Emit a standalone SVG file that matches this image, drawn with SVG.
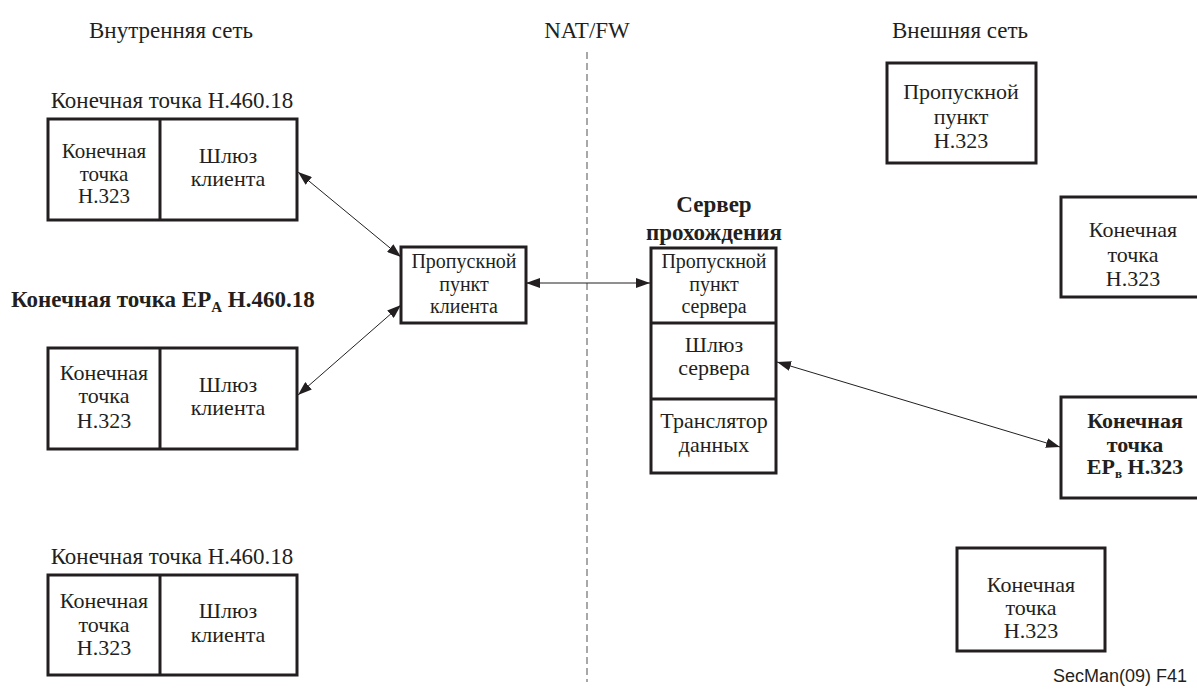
<svg xmlns="http://www.w3.org/2000/svg" width="1197" height="690" viewBox="0 0 1197 690">
  <style>
    text { font-family: "Liberation Serif", "Liberation Sans", serif; font-size: 22px; fill: #231f20; text-anchor: middle; }
    .b { font-weight: bold; }
    .sm { font-size: 21px; }
    .tight { font-size: 20px; }
    .lbl { font-size: 23px; }
    .note { font-family: "Liberation Sans", Arial, sans-serif; font-size: 18px; text-anchor: end; }
    .box { fill: #fff; stroke: #231f20; stroke-width: 3; }
    .div { stroke: #231f20; stroke-width: 3; }
    .link { stroke: #231f20; stroke-width: 1; fill: none; marker-start: url(#ah); marker-end: url(#ah); }
    .fw { stroke: #8c8c8c; stroke-width: 1.5; stroke-dasharray: 7 4; }
  </style>
  <defs>
    <marker id="ah" viewBox="0 0 14 10" refX="14" refY="5" markerWidth="14" markerHeight="10" markerUnits="userSpaceOnUse" orient="auto-start-reverse">
      <path d="M0,0 L14,5 L0,10 z" fill="#231f20"/>
    </marker>
  </defs>

  <!-- zone headers -->
  <g id="headers">
    <text class="lbl" x="171" y="38">Внутренняя сеть</text>
    <text class="lbl" x="587" y="38">NAT/FW</text>
    <text class="lbl" x="960" y="38">Внешняя сеть</text>
  </g>

  <!-- NAT/firewall boundary -->
  <line class="fw" x1="587" y1="52" x2="587" y2="682"/>

  <!-- connectors -->
  <g id="connectors">
    <line class="link" x1="298" y1="172" x2="401" y2="257"/>
    <line class="link" x1="298" y1="395" x2="401" y2="305"/>
    <line class="link" x1="526" y1="283" x2="650" y2="283"/>
    <line class="link" x1="777" y1="362" x2="1060" y2="447"/>
  </g>

  <!-- H.460.18 endpoint (top) -->
  <g id="ep-h46018-top">
    <text class="lbl" x="172" y="108">Конечная точка H.460.18</text>
    <rect class="box" x="48" y="119" width="249" height="101"/>
    <line class="div" x1="160" y1="119" x2="160" y2="220"/>
    <text class="sm" x="104" y="158">Конечная</text>
    <text class="sm" x="104" y="181">точка</text>
    <text class="sm" x="104" y="203">H.323</text>
    <text x="228" y="163">Шлюз</text>
    <text x="228" y="186">клиента</text>
  </g>

  <!-- H.460.18 endpoint EP_A (middle) -->
  <g id="ep-a">
    <text class="b lbl" x="11" y="307" style="text-anchor:start">Конечная  точка EP<tspan font-size="15" dy="5">A</tspan><tspan dy="-5"> H.460.18</tspan></text>
    <rect class="box" x="48" y="348" width="249" height="101"/>
    <line class="div" x1="160" y1="348" x2="160" y2="449"/>
    <text x="104" y="380">Конечная</text>
    <text x="104" y="403">точка</text>
    <text x="104" y="428">H.323</text>
    <text x="228" y="392">Шлюз</text>
    <text x="228" y="415">клиента</text>
  </g>

  <!-- H.460.18 endpoint (bottom) -->
  <g id="ep-h46018-bottom">
    <text class="lbl" x="172" y="564">Конечная точка H.460.18</text>
    <rect class="box" x="48" y="575" width="249" height="100"/>
    <line class="div" x1="160" y1="575" x2="160" y2="675"/>
    <text x="104" y="608">Конечная</text>
    <text x="104" y="632">точка</text>
    <text x="104" y="655">H.323</text>
    <text x="228" y="618">Шлюз</text>
    <text x="228" y="642">клиента</text>
  </g>

  <!-- client gatekeeper -->
  <g id="client-gk">
    <rect class="box" x="401" y="247" width="125" height="76"/>
    <text class="tight" x="464" y="268">Пропускной</text>
    <text class="tight" x="464" y="290.5">пункт</text>
    <text class="tight" x="464" y="313">клиента</text>
  </g>

  <!-- traversal server -->
  <g id="traversal-server">
    <text class="b lbl" x="714" y="212">Сервер</text>
    <text class="b lbl" x="714" y="240">прохождения</text>
    <rect class="box" x="651" y="248" width="125" height="225"/>
    <line class="div" x1="651" y1="323" x2="776" y2="323"/>
    <line class="div" x1="651" y1="399" x2="776" y2="399"/>
    <text class="tight" x="714" y="268">Пропускной</text>
    <text class="tight" x="714" y="290.5">пункт</text>
    <text class="tight" x="714" y="313">сервера</text>
    <text x="714" y="352">Шлюз</text>
    <text x="714" y="375">сервера</text>
    <text x="714" y="428">Транслятор</text>
    <text x="714" y="452">данных</text>
  </g>

  <!-- H.323 gatekeeper -->
  <g id="h323-gk">
    <rect class="box" x="887" y="63" width="149" height="100"/>
    <text x="961" y="99">Пропускной</text>
    <text x="961" y="124">пункт</text>
    <text x="961" y="148">H.323</text>
  </g>

  <!-- H.323 endpoint (upper right) -->
  <g id="h323-ep-1">
    <rect class="box" x="1061" y="197" width="150" height="100"/>
    <text x="1133" y="237">Конечная</text>
    <text x="1133" y="262">точка</text>
    <text x="1133" y="286">H.323</text>
  </g>

  <!-- H.323 endpoint EP_B -->
  <g id="ep-b">
    <rect class="box" x="1061" y="397" width="150" height="101"/>
    <text class="b" x="1135" y="428">Конечная</text>
    <text class="b" x="1135" y="452">точка</text>
    <text class="b" x="1135" y="474">EP<tspan font-size="13" dy="4">в</tspan><tspan dy="-4"> H.323</tspan></text>
  </g>

  <!-- H.323 endpoint (lower right) -->
  <g id="h323-ep-2">
    <rect class="box" x="957" y="548" width="148" height="103"/>
    <text x="1031" y="592">Конечная</text>
    <text x="1031" y="615">точка</text>
    <text x="1031" y="638">H.323</text>
  </g>

  <text class="note" x="1187" y="682">SecMan(09)  F41</text>
</svg>
